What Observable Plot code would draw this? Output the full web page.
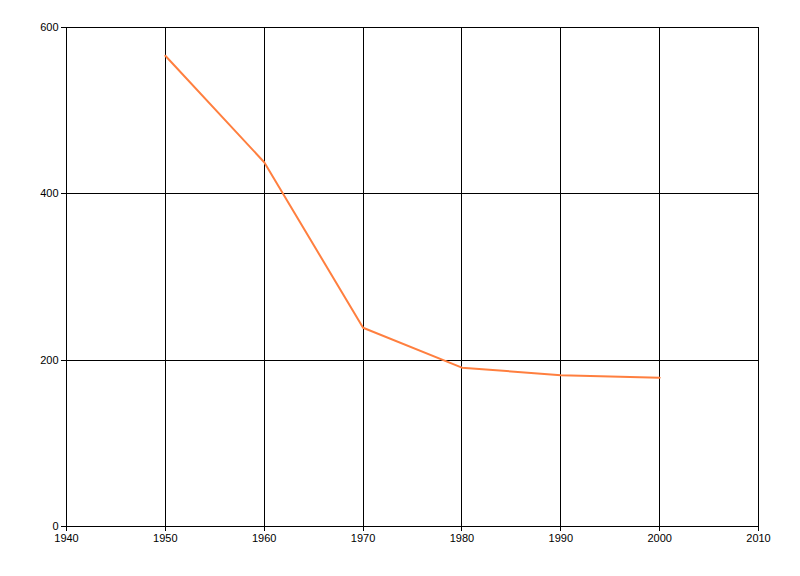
<!DOCTYPE html>
<html>
<head>
<meta charset="utf-8">
<script src="https://cdn.jsdelivr.net/npm/d3@7"></script>
<script src="https://cdn.jsdelivr.net/npm/@observablehq/plot@0.6"></script>
<style>
  html, body { margin: 0; padding: 0; background: #fff; }
  #chart svg { display: block; }
  #chart svg g[aria-label="rule"], #chart svg g[aria-label="x-axis tick"], #chart svg g[aria-label="y-axis tick"] { shape-rendering: crispEdges; }
</style>
</head>
<body>
<div id="chart"></div>
<script>
const years = [1950, 1960, 1970, 1980, 1990, 2000];
const values = [566, 438, 239, 191, 182, 179];
const xTicks = [1940, 1950, 1960, 1970, 1980, 1990, 2000, 2010];
const yTicks = [0, 200, 400, 600];

const data = years.map((y, i) => ({year: y, value: values[i]}));

const chart = Plot.plot({
  width: 800,
  height: 576,
  marginLeft: 66,
  marginRight: 42,
  marginTop: 27,
  marginBottom: 50,
  style: {fontFamily: "'Liberation Sans', Arial, sans-serif", fontSize: "11px", color: "#000", background: "#fff"},
  x: {domain: [1940, 2010], ticks: xTicks, tickFormat: d => String(d), label: null},
  y: {domain: [0, 600], ticks: yTicks, label: null},
  marks: [
    Plot.ruleX(xTicks, {stroke: "#000", strokeWidth: 1}),
    Plot.ruleY(yTicks, {stroke: "#000", strokeWidth: 1}),
    Plot.axisX({ticks: xTicks, tickFormat: d => String(d), tickSize: 5, tickPadding: 3, stroke: "#000", strokeOpacity: 1, fontSize: 11, label: null}),
    Plot.axisY({ticks: yTicks, tickSize: 5, tickPadding: 3, stroke: "#000", strokeOpacity: 1, fontSize: 11, label: null}),
    Plot.line(data, {x: "year", y: "value", stroke: "#FF7F3F", strokeWidth: 2})
  ]
});
document.getElementById("chart").appendChild(chart);
</script>
</body>
</html>
